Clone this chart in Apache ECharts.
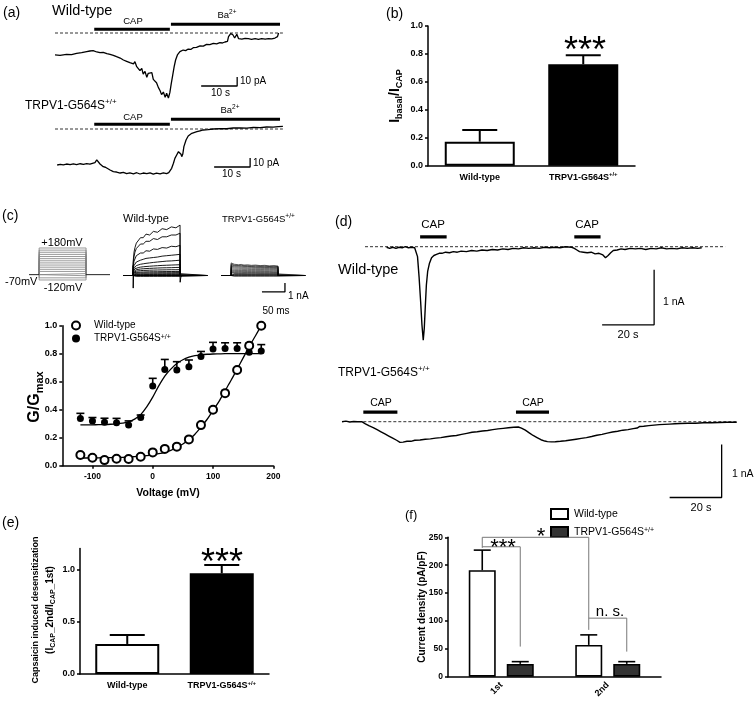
<!DOCTYPE html>
<html><head><meta charset="utf-8">
<script src="https://cdn.jsdelivr.net/npm/echarts@6/dist/echarts.min.js"></script>
<style>html,body{margin:0;padding:0;background:#fff}#c{width:754px;height:705px}</style>
</head><body><div id="c"></div>
<script>
// ======================= DATA =======================
// (a) whole-cell traces: [time (s), current (pA)]
const aWtTrace = [[0,-24.4],[1.4,-24.8],[3.2,-23.7],[4.6,-24.1],[6.0,-22.6],[7.4,-21.9],[8.8,-20.7],[9.7,-20.0],[10.6,-19.6],[11.6,-21.1],[12.5,-21.9],[13.4,-21.5],[14.4,-23.0],[15.3,-23.7],[16.2,-24.8],[17.1,-26.3],[18.1,-27.8],[19.0,-30.0],[19.9,-31.5],[20.8,-33.0],[21.8,-34.4],[22.2,-31.9],[22.7,-37.4],[23.1,-35.9],[23.6,-41.9],[24.1,-39.3],[24.5,-45.6],[25.0,-42.6],[25.5,-49.3],[25.9,-44.8],[26.4,-47.0],[26.9,-44.1],[27.3,-51.5],[27.8,-49.3],[28.2,-55.2],[28.7,-60.4],[29.2,-64.1],[29.6,-68.5],[30.1,-65.6],[30.6,-71.5],[31.0,-67.0],[31.5,-72.2],[31.9,-66.3],[32.3,-55.9],[32.7,-46.7],[33.1,-37.4],[33.5,-30.0],[34.0,-24.4],[34.7,-20.7],[35.6,-18.9],[36.3,-19.6],[37.0,-17.8],[37.7,-18.3],[38.4,-16.3],[39.3,-16.0],[40.3,-14.4],[41.2,-14.6],[42.1,-12.6],[43.0,-13.0],[44.0,-11.5],[44.9,-12.0],[45.8,-10.7],[46.5,-11.1],[47.2,-10.0],[47.9,-9.3],[48.2,-4.1],[48.8,-0.7],[49.4,-1.9],[49.9,-5.6],[50.5,-1.5],[51.0,-6.3],[51.9,-6.7],[52.8,-5.9],[53.7,-6.3],[54.6,-7.0],[55.6,-6.2],[56.5,-7.0],[57.4,-6.3],[58.4,-6.9],[59.3,-6.2],[60.2,-6.6],[61.1,-5.6],[61.8,-4.1],[62.1,0]];
const aMutTrace = [[0.6,-40.0],[1.5,-39.2],[2.3,-39.8],[3.2,-38.9],[4.2,-39.6],[5.1,-38.7],[6.0,-39.5],[7.0,-38.6],[7.9,-39.2],[8.8,-38.5],[9.7,-39.1],[10.4,-38.2],[11.1,-37.4],[11.6,-34.4],[12.0,-36.3],[12.5,-38.9],[13.0,-40.2],[13.4,-41.9],[14.0,-42.5],[14.4,-43.7],[15.3,-45.6],[16.2,-47.4],[17.1,-47.8],[18.1,-48.9],[19.0,-48.2],[19.9,-49.6],[20.8,-48.7],[21.8,-49.8],[22.7,-48.6],[23.6,-50.0],[24.5,-48.9],[25.5,-49.6],[26.4,-48.7],[27.3,-50.2],[28.2,-49.0],[29.2,-49.8],[30.1,-48.7],[31.0,-49.6],[31.6,-48.5],[32.0,-46.5],[32.4,-43.7],[32.9,-38.1],[33.3,-32.6],[33.8,-28.9],[34.3,-25.2],[34.7,-24.1],[35.0,-28.0],[35.2,-30.7],[35.5,-27.8],[35.8,-19.6],[36.4,-12.2],[37.0,-7.8],[38.0,-4.8],[39.4,-3.0],[40.3,-2.0],[41.2,-1.1],[42.5,-0.6],[44.0,0.0],[45.8,0.4],[47.7,0.3],[49.5,1.1],[51.4,1.3],[53.3,1.0],[55.1,1.9],[57.0,1.6],[58.8,2.2],[60.6,2.0],[62.0,2.6],[63.3,3.0]];
const aCapPeriod = [10.9, 31.9];   // s
const aBaPeriod  = [32.2, 62.5];   // s
const aBaseline  = [0, 63.3];      // s, dashed zero-current line
const aScaleBar  = [10, 10];       // 10 s, 10 pA

// (b) I_basal / I_CAP
const bCategories = ['Wild-type', 'TRPV1-G564S+/+'];
const bMeans = [0.172, 0.726];
const bSem   = [0.083, 0.064];

// (c) voltage protocol and current families (time ms, current nA)
const cStepVoltages = [-120,-100,-80,-60,-40,-20,0,20,40,60,80,100,120,140,160,180];
const cHoldingVoltage = -70;
const cProtocolTimes = [0, 22, 124, 176];      // start, step on, step off, end
const cTraceEnd = 183;
const cSweepTimes = [22,24,26,29,33,38,44,50,58,66,75,85,95,105,115,124];
const cWtSweeps = [
 [-0.1,-0.09,-0.08,-0.08,-0.08,-0.08,-0.08,-0.08,-0.08,-0.08,-0.08,-0.08,-0.08,-0.08,-0.08,-0.08],
 [-0.06,-0.05,-0.04,-0.04,-0.04,-0.04,-0.04,-0.04,-0.04,-0.04,-0.04,-0.04,-0.04,-0.04,-0.04,-0.04],
 [-0.02,-0.01,0,0,0,0,0,0,0,0,0,0,0,0,0,0],
 [0.03,0.03,0.04,0.04,0.04,0.04,0.04,0.04,0.04,0.04,0.04,0.04,0.04,0.04,0.04,0.04],
 [0.07,0.08,0.08,0.09,0.09,0.09,0.09,0.1,0.1,0.1,0.1,0.1,0.1,0.1,0.1,0.1],
 [0.12,0.14,0.15,0.16,0.17,0.17,0.18,0.18,0.18,0.19,0.19,0.19,0.2,0.2,0.2,0.2],
 [0.18,0.22,0.24,0.26,0.27,0.28,0.28,0.29,0.29,0.3,0.3,0.31,0.31,0.31,0.32,0.32],
 [0.22,0.29,0.32,0.35,0.37,0.38,0.39,0.4,0.41,0.42,0.42,0.43,0.44,0.44,0.45,0.45],
 [0.3,0.4,0.45,0.49,0.52,0.54,0.56,0.57,0.59,0.6,0.61,0.62,0.63,0.64,0.64,0.65],
 [0.38,0.52,0.6,0.65,0.69,0.72,0.75,0.77,0.79,0.81,0.83,0.85,0.86,0.87,0.89,0.9],
 [0.45,0.65,0.75,0.82,0.88,0.93,0.97,1.0,1.03,1.06,1.09,1.12,1.14,1.16,1.18,1.2],
 [0.55,0.8,0.95,1.1,1.15,1.25,1.3,1.35,1.4,1.45,1.5,1.55,1.6,1.62,1.66,1.7],
 [0.7,1.1,1.3,1.5,1.6,1.7,1.8,1.9,1.95,2.0,2.05,2.15,2.2,2.25,2.3,2.35],
 [0.9,1.6,1.8,2.2,2.25,2.5,2.5,2.75,2.7,2.95,2.9,3.1,3.05,3.25,3.2,3.35],
 [1.2,2.1,2.6,3.0,3.2,3.5,3.5,3.8,3.8,4.1,4.0,4.3,4.3,4.5,4.5,4.7],
 [1.5,2.6,3.1,3.6,3.8,4.2,4.2,4.6,4.5,4.9,4.8,5.2,5.1,5.4,5.3,5.6]
];
const cMutSweeps = [
 [-0.08,-0.08,-0.08,-0.08,-0.08,-0.08,-0.08,-0.08,-0.08,-0.08,-0.08,-0.08,-0.08,-0.08,-0.08,-0.08],
 [-0.03,-0.03,-0.03,-0.03,-0.03,-0.03,-0.03,-0.03,-0.03,-0.03,-0.03,-0.03,-0.03,-0.03,-0.03,-0.03],
 [0.02,0.02,0.02,0.02,0.02,0.02,0.02,0.02,0.02,0.02,0.02,0.02,0.02,0.02,0.02,0.02],
 [0.07,0.07,0.07,0.07,0.07,0.07,0.07,0.07,0.07,0.07,0.07,0.07,0.07,0.07,0.07,0.07],
 [0.13,0.13,0.13,0.13,0.13,0.13,0.13,0.13,0.13,0.13,0.13,0.13,0.13,0.13,0.13,0.13],
 [0.2,0.2,0.19,0.19,0.19,0.19,0.19,0.19,0.18,0.18,0.18,0.18,0.18,0.18,0.18,0.18],
 [0.28,0.27,0.27,0.27,0.26,0.26,0.26,0.26,0.26,0.26,0.26,0.25,0.25,0.25,0.25,0.25],
 [0.37,0.36,0.36,0.35,0.35,0.35,0.35,0.34,0.34,0.34,0.34,0.34,0.34,0.34,0.33,0.33],
 [0.48,0.47,0.46,0.46,0.45,0.45,0.45,0.45,0.44,0.44,0.44,0.44,0.44,0.44,0.43,0.43],
 [0.6,0.59,0.58,0.57,0.57,0.56,0.56,0.56,0.55,0.55,0.55,0.55,0.54,0.54,0.54,0.54],
 [0.74,0.72,0.71,0.7,0.7,0.69,0.69,0.68,0.68,0.67,0.67,0.67,0.66,0.66,0.66,0.65],
 [0.88,0.86,0.85,0.84,0.83,0.82,0.81,0.81,0.8,0.8,0.79,0.79,0.78,0.78,0.78,0.77],
 [1.02,1.0,0.98,0.97,0.95,0.94,0.93,0.92,0.92,0.91,0.9,0.9,0.89,0.89,0.88,0.88],
 [1.15,1.12,1.1,1.08,1.06,1.04,1.03,1.02,1.0,0.99,0.98,0.97,0.97,0.96,0.95,0.95],
 [1.28,1.22,1.22,1.15,1.17,1.11,1.13,1.08,1.1,1.05,1.08,1.03,1.05,1.01,1.03,1.0],
 [1.4,1.32,1.33,1.25,1.27,1.2,1.23,1.16,1.19,1.13,1.16,1.1,1.13,1.07,1.1,1.05]
];
const cWtTransientOn  = [[22,0],[22,1.1],[22.2,-1.4],[22.8,0]];
const cWtTransientOff = [[124,0],[124.2,-0.75],[125.5,-0.25],[127,0]];
const cScaleBar = [50, 1];   // 50 ms, 1 nA

// (c) conductance-voltage
const cVoltages = [-120,-100,-80,-60,-40,-20,0,20,40,60,80,100,120,140,160,180];
const cWtG     = [0.076,0.057,0.04,0.05,0.048,0.064,0.095,0.12,0.136,0.188,0.29,0.40,0.517,0.683,0.857,1.0];
const cWtGErr  = [0.012,0.012,0.018,0.01,0.01,0.01,0.012,0.012,0.012,0.015,0.012,0.015,0.02,0.015,0.015,0.0];
const cMutG    = [0.338,0.32,0.31,0.307,0.29,0.345,0.569,0.688,0.683,0.707,0.78,0.833,0.838,0.838,0.81,0.82];
const cMutGErr = [0.036,0.024,0.029,0.031,0.03,0.017,0.055,0.071,0.06,0.048,0.036,0.048,0.04,0.04,0.064,0.045];
const cFitV   = [-120,-110,-100,-90,-80,-70,-60,-50,-40,-30,-20,-10,0,10,20,30,40,50,60,70,80,90,100,110,120,130,140,150,160,170,180];
const cWtFit  = [0.055,0.055,0.056,0.056,0.057,0.058,0.059,0.06,0.062,0.065,0.068,0.072,0.078,0.086,0.096,0.11,0.13,0.155,0.185,0.225,0.275,0.33,0.395,0.46,0.535,0.61,0.69,0.77,0.85,0.925,1.0];
const cMutFit = [0.291,0.291,0.292,0.293,0.294,0.296,0.299,0.304,0.313,0.333,0.365,0.42,0.49,0.57,0.64,0.69,0.73,0.757,0.775,0.786,0.792,0.796,0.798,0.799,0.8,0.8,0.8,0.8,0.8,0.8,0.8];
const cGTicksX = [-100, 0, 100, 200];

// (d) repeated capsaicin applications: [time (s), current (nA)]
const dWtTrace = [[8.3,-0.01],[9.5,-0.03],[10.7,-0.01],[11.9,-0.03],[13.1,-0.01],[14.3,-0.02],[15.5,0.0],[16.7,-0.02],[17.9,-0.01],[19.1,-0.02],[19.7,-0.03],[20.2,-0.18],[20.8,-0.55],[21.4,-1.0],[21.9,-1.42],[22.4,-1.70],[22.8,-1.48],[23.2,-1.08],[23.6,-0.7],[24.1,-0.45],[24.8,-0.3],[25.6,-0.2],[26.5,-0.16],[27.5,-0.14],[28.5,-0.12],[29.6,-0.12],[31,-0.1],[32.5,-0.11],[34,-0.09],[35.5,-0.1],[37,-0.08],[39,-0.09],[41,-0.07],[43,-0.08],[45,-0.06],[47,-0.07],[49,-0.05],[51,-0.06],[53,-0.04],[55,-0.05],[57,-0.03],[59,-0.04],[61,-0.02],[63,-0.03],[65,-0.02],[67,-0.03],[69,-0.01],[71,-0.02],[73,-0.01],[75,-0.02],[77,0.0],[79.5,-0.01],[80.5,-0.03],[81.5,-0.06],[82.5,-0.09],[84,-0.1],[85.5,-0.11],[87,-0.1],[88.5,-0.13],[90,-0.12],[91.5,-0.15],[92.5,-0.2],[93.5,-0.16],[94.5,-0.11],[95.5,-0.07],[97,-0.06],[98.5,-0.04],[100,-0.05],[102,-0.03],[104,-0.04],[106,-0.03],[108,-0.05],[110,-0.03],[112,-0.04],[114,-0.02],[116,-0.04],[118,-0.03],[120,-0.04],[122,-0.02],[124,-0.03],[126,-0.02],[128,-0.03],[129.5,-0.02]];
const dMutTrace = [[0,0],[1.5,0.01],[3,-0.005],[4.5,0.005],[6,0],[7.6,0],[9,-0.04],[10.5,-0.08],[12,-0.11],[13.5,-0.15],[15,-0.19],[16.5,-0.23],[18,-0.27],[19.5,-0.31],[21,-0.35],[22.3,-0.39],[23.5,-0.385],[25,-0.37],[26.5,-0.37],[28,-0.35],[30,-0.345],[32,-0.33],[34,-0.325],[36,-0.31],[38,-0.3],[40,-0.285],[42,-0.27],[44,-0.26],[46,-0.24],[48,-0.22],[50,-0.2],[52,-0.19],[54,-0.175],[56,-0.165],[58,-0.15],[60,-0.135],[62,-0.125],[64,-0.115],[66,-0.105],[67.8,-0.1],[69,-0.12],[70.5,-0.16],[72,-0.21],[73.5,-0.26],[75,-0.3],[76.5,-0.34],[78,-0.365],[79,-0.375],[80.5,-0.38],[82,-0.378],[84,-0.37],[86,-0.36],[88,-0.345],[90,-0.33],[92,-0.315],[94,-0.3],[96,-0.28],[98,-0.255],[100,-0.24],[102,-0.215],[104,-0.195],[106,-0.18],[108,-0.16],[110,-0.15],[112,-0.13],[113.5,-0.12],[114.5,-0.09],[116,-0.085],[118,-0.075],[120,-0.065],[122,-0.055],[124,-0.05],[126,-0.045],[128,-0.04],[130,-0.035],[133,-0.03],[136,-0.03],[139,-0.02],[142,-0.02],[145,-0.015],[148,-0.01],[151.8,-0.01]];
const dWtCapPeriods  = [[21.2, 31.4], [80.5, 90.6]];
const dMutCapPeriods = [[8.2, 21.3], [66.9, 79.6]];
const dWtBaseline  = [0, 138.5];
const dMutBaseline = [8.2, 151.9];
const dScaleBar = [20, 1];   // 20 s, 1 nA

// (e) desensitization ratio
const eCategories = ['Wild-type', 'TRPV1-G564S+/+'];
const eMeans = [0.287, 0.962];
const eSem   = [0.086, 0.079];
const eTicks = [0, 0.5, 1.0];

// (f) current density
const fCategories = ['1st', '2nd'];
const fWt    = [191, 57];
const fWtSem = [36, 18];
const fMut    = [23, 23];
const fMutSem = [4, 4];
// brackets: [catA, sideA(-1 WT / +1 mutant), yA, catB, sideB, yB, yTop]
const fBrackets = [[0,-1,231, 1,-1,84, 250],[0,-1,233, 0,1,54, 233],[1,-1,105, 1,1,45, 105]];

// ======================= LAYOUT / STYLE =======================
const FF = 'Arial, "Liberation Sans", Helvetica, sans-serif';
const L = {
  aWt:  {left:55, top:10.5, width:228, height:90, x:[0,63.33], y:[-75,25], cap:4.1, ba:9.6, sb:[50.6,-58.9]},
  aMut: {left:55, top:106.5, width:228, height:90, x:[0,63.33], y:[-75,25], cap:5.2, ba:10.7, sb:[54.2,-42.2]},
  b:    {left:428, top:26, width:207, height:139.7},
  cProt:{left:29, top:244.8, width:81, height:40.5, x:[0,176], y:[-170,210]},
  cWt:  {left:123, top:215.2, width:84.2, height:80.1, x:[0,183], y:[-2.2,6.7]},
  cMut: {left:221, top:215.2, width:84.2, height:80.1, x:[0,183], y:[-2.2,6.7], sb:[139,-1.83]},
  cG:   {left:62.3, top:325.7, width:211, height:140},
  dWt:  {left:365, top:224.7, width:360, height:121, x:[0,138.46], y:[-1.8,0.4], cap:0.18, sb:[111.2,-1.42]},
  dMut: {left:342, top:400.5, width:395, height:106, x:[0,151.9], y:[-1.6,0.4], cap:0.18, sb:[146.0,-1.43]},
  e:    {left:80, top:548.4, width:189, height:125.6},
  f:    {left:448, top:537.3, width:213, height:139.4}
};

function merge(a, b){
  const o = Object.assign({}, a);
  for (const k in b){
    const v = b[k];
    if (v && typeof v === 'object' && !Array.isArray(v) && o[k] && typeof o[k] === 'object' && !Array.isArray(o[k])) o[k] = merge(o[k], v);
    else o[k] = v;
  }
  return o;
}
const AX = {
  axisLine:{show:true, onZero:false, lineStyle:{color:'#000', width:1.5}},
  axisTick:{show:true, inside:false, length:3, lineStyle:{color:'#000', width:1.5}},
  axisLabel:{show:true, color:'#000', fontFamily:FF, fontSize:9, fontWeight:'bold', margin:5, hideOverlap:false},
  splitLine:{show:false}, splitArea:{show:false}, minorTick:{show:false}
};
const catRich = {
  n:{fontFamily:FF, fontSize:9, fontWeight:'bold', color:'#000', lineHeight:12},
  p:{fontFamily:FF, fontSize:6, fontWeight:'bold', color:'#000', lineHeight:6, verticalAlign:'top'}
};
function supTag(v){ const m = String(v).match(/^(.*?)(\+\/\+)$/); return m ? '{n|'+m[1]+'}{p|'+m[2]+'}' : '{n|'+v+'}'; }

const grids = [], xAxes = [], yAxes = [], series = [], G = [];
function addGrid(g, xa, ya){
  const i = grids.length;
  grids.push({left:g.left, top:g.top, width:g.width, height:g.height, containLabel:false, outerBoundsMode:'none', show:false});
  xa.gridIndex = i; ya.gridIndex = i; xAxes.push(xa); yAxes.push(ya); return i;
}
const hid = (r) => ({type:'value', min:r[0], max:r[1], show:false, splitLine:{show:false}});
function line(gi, data, style, extra){
  series.push(Object.assign({type:'line', xAxisIndex:gi, yAxisIndex:gi, data:data, showSymbol:false, symbol:'none', silent:true, z:2,
    lineStyle:Object.assign({color:'#000', width:1, opacity:1}, style||{})}, extra||{}));
}
function scaleBar(gi, anchor, len){
  line(gi, [[anchor[0]-len[0], anchor[1]], [anchor[0], anchor[1]], [anchor[0], anchor[1]+len[1]]], {width:1.3});
}
function errorBars(gi, items, capHalf, width, dx, z){
  series.push({type:'custom', xAxisIndex:gi, yAxisIndex:gi, silent:true, z:z||3, data:items, encode:{x:0, y:1},
    renderItem:function(params, api){
      const x = api.value(0), y = api.value(1), e = api.value(2);
      const a = api.coord([x, y]), b = api.coord([x, y + e]);
      const cx = a[0] + (dx||0);
      return {type:'group', children:[
        {type:'line', shape:{x1:cx, y1:a[1], x2:cx, y2:b[1]}, style:{stroke:'#000', lineWidth:width}},
        {type:'line', shape:{x1:cx-capHalf, y1:b[1], x2:cx+capHalf, y2:b[1]}, style:{stroke:'#000', lineWidth:width}}
      ]};
    }});
}
function rt(x, y, text, o){
  o = o || {};
  const size = o.size || 10, w = o.weight || 'normal', sm = o.small || Math.round(size*0.65), al = o.align || 'left';
  const H = Math.round(size*1.3);
  G.push({type:'text', x:x, y:y, rotation:o.rot ? Math.PI/2 : 0, silent:true, z:100,
    style:{text:text, fill:'#000', fontFamily:FF, fontSize:size, fontWeight:w, align:al, verticalAlign:'middle', textAlign:al, textVerticalAlign:'middle',
      rich:{
        n:{fontFamily:FF, fontSize:size, fontWeight:w, lineHeight:H, verticalAlign:'middle', fill:'#000'},
        p:{fontFamily:FF, fontSize:sm, fontWeight:w, lineHeight:sm, verticalAlign:'top', fill:'#000'},
        d:{fontFamily:FF, fontSize:sm, fontWeight:w, lineHeight:sm, verticalAlign:'bottom', fill:'#000'}
      }}});
}

// ---------- (a) ----------
[['aWt', aWtTrace], ['aMut', aMutTrace]].forEach(function(pair){
  const g = L[pair[0]];
  const gi = addGrid(g, hid(g.x), hid(g.y));
  line(gi, [[aBaseline[0],0],[aBaseline[1],0]], {width:1, type:[3,2], color:'#333'});
  line(gi, pair[1], {width:1.3});
  line(gi, [[aCapPeriod[0],g.cap],[aCapPeriod[1],g.cap]], {width:3});
  line(gi, [[aBaPeriod[0],g.ba],[aBaPeriod[1],g.ba]], {width:3});
  scaleBar(gi, g.sb, aScaleBar);
});

// ---------- (b) ----------
(function(){
  const gi = addGrid(L.b,
    merge(AX, {type:'category', data:bCategories, axisTick:{show:false}, axisLabel:{interval:0, margin:6, formatter:supTag, rich:catRich}}),
    merge(AX, {type:'value', min:0, max:1, interval:0.2, axisLabel:{formatter:function(v){return v.toFixed(1);}}}));
  series.push({type:'bar', xAxisIndex:gi, yAxisIndex:gi, barWidth:70, silent:true, z:2,
    data:bMeans.map(function(v,i){ return {value:v, itemStyle:i===0 ? {color:'#fff', borderColor:'#000', borderWidth:2} : {color:'#000', borderColor:'#000', borderWidth:2}}; })});
  errorBars(gi, bMeans.map(function(v,i){return [i, v, bSem[i]];}), 17.5, 2);
})();

// ---------- (c) protocol ----------
(function(){
  const g = L.cProt;
  const gi = addGrid(g, hid(g.x), hid(g.y));
  const t = cProtocolTimes, h = cHoldingVoltage;
  cStepVoltages.forEach(function(V){
    line(gi, [[t[1],h],[t[1],V],[t[2],V],[t[2],h]], {width:0.8, color:'#808080'});
  });
  line(gi, [[t[0],h],[t[1],h]], {width:1, color:'#222'});
  line(gi, [[t[2],h],[t[3],h]], {width:1, color:'#222'});
})();
// ---------- (c) current families ----------
[['cWt', cWtSweeps, 0.9], ['cMut', cMutSweeps, 0.6]].forEach(function(pair){
  const g = L[pair[0]];
  const gi = addGrid(g, hid(g.x), hid(g.y));
  pair[1].forEach(function(sw){
    const d = [[0,0],[cProtocolTimes[1],0]].concat(cSweepTimes.map(function(tt,j){return [tt, sw[j]];}));
    d.push([cProtocolTimes[2],0]); d.push([cTraceEnd,0]);
    line(gi, d, {width:pair[2]});
  });
  if (pair[0] === 'cWt'){ line(gi, cWtTransientOn, {width:1}); line(gi, cWtTransientOff, {width:1}); }
  else scaleBar(gi, g.sb, cScaleBar);
});
// ---------- (c) G/Gmax ----------
(function(){
  const gi = addGrid(L.cG,
    merge(AX, {type:'value', min:-150, max:200, axisTick:{customValues:cGTicksX}, axisLabel:{fontSize:8.5, margin:6, customValues:cGTicksX}}),
    merge(AX, {type:'value', min:0, max:1, interval:0.2, axisLabel:{formatter:function(v){return v.toFixed(1);}}}));
  line(gi, cFitV.map(function(v,i){return [v, cWtFit[i]];}), {width:1.3}, {smooth:0.3});
  line(gi, cFitV.map(function(v,i){return [v, cMutFit[i]];}), {width:1.3}, {smooth:0.3});
  errorBars(gi, cVoltages.map(function(v,i){return [v, cMutG[i], cMutGErr[i]];}), 4, 1.6);
  errorBars(gi, cVoltages.map(function(v,i){return [v, cWtG[i], cWtGErr[i]];}), 4, 1.6);
  series.push({type:'scatter', name:'gMut', xAxisIndex:gi, yAxisIndex:gi, symbol:'circle', symbolSize:7, silent:true, z:5,
    itemStyle:{color:'#000', borderColor:'#000', borderWidth:0, opacity:1}, data:cVoltages.map(function(v,i){return [v, cMutG[i]];})});
  series.push({type:'scatter', name:'gWT', xAxisIndex:gi, yAxisIndex:gi, symbol:'circle', symbolSize:8, silent:true, z:6,
    itemStyle:{color:'#fff', borderColor:'#000', borderWidth:2, opacity:1}, data:cVoltages.map(function(v,i){return [v, cWtG[i]];})});
})();

// ---------- (d) ----------
[['dWt', dWtTrace, dWtCapPeriods, dWtBaseline], ['dMut', dMutTrace, dMutCapPeriods, dMutBaseline]].forEach(function(p){
  const g = L[p[0]];
  const gi = addGrid(g, hid(g.x), hid(g.y));
  line(gi, [[p[3][0],0],[p[3][1],0]], {width:1, type:[3,2], color:'#333'});
  line(gi, p[1], {width:1.4});
  p[2].forEach(function(c){ line(gi, [[c[0],g.cap],[c[1],g.cap]], {width:3.3}); });
  scaleBar(gi, g.sb, dScaleBar);
});

// ---------- (e) ----------
(function(){
  const gi = addGrid(L.e,
    merge(AX, {type:'category', data:eCategories, axisTick:{show:false}, axisLabel:{interval:0, margin:6, formatter:supTag, rich:catRich}}),
    merge(AX, {type:'value', min:0, max:1.2, axisTick:{customValues:eTicks}, axisLabel:{customValues:eTicks, formatter:function(v){return Number(v).toFixed(1);}}}));
  series.push({type:'bar', xAxisIndex:gi, yAxisIndex:gi, barWidth:64, silent:true, z:2,
    data:eMeans.map(function(v,i){ return {value:v, itemStyle:i===0 ? {color:'#fff', borderColor:'#000', borderWidth:2} : {color:'#000', borderColor:'#000', borderWidth:2}}; })});
  errorBars(gi, eMeans.map(function(v,i){return [i, v, eSem[i]];}), 17.5, 2);
})();

// ---------- (f) ----------
(function(){
  const gi = addGrid(L.f,
    merge(AX, {type:'category', data:fCategories, axisTick:{show:false}, axisLabel:{interval:0, rotate:45, margin:7, fontSize:9, padding:[0,0,0,6]}}),
    merge(AX, {type:'value', min:0, max:250, interval:50, axisLabel:{fontSize:8.5}}));
  const bw = 27, gap = 11, off = (bw + gap)/2;
  series.push({type:'bar', name:'fWT', xAxisIndex:gi, yAxisIndex:gi, barWidth:bw, barGap:(gap/bw*100)+'%', silent:true, z:2,
    itemStyle:{color:'#fff', borderColor:'#000', borderWidth:1.6}, data:fWt});
  series.push({type:'bar', name:'fMut', xAxisIndex:gi, yAxisIndex:gi, barWidth:bw, barGap:(gap/bw*100)+'%', silent:true, z:2,
    itemStyle:{color:'#333', borderColor:'#000', borderWidth:1.6}, data:fMut});
  errorBars(gi, fWt.map(function(v,i){return [i, v, fWtSem[i]];}), 8.5, 1.6, -off);
  errorBars(gi, fMut.map(function(v,i){return [i, v, fMutSem[i]];}), 8.5, 1.6, off);
  series.push({type:'custom', xAxisIndex:gi, yAxisIndex:gi, silent:true, z:4, data:fBrackets, encode:{x:0, y:6},
    renderItem:function(params, api){
      const x1 = api.coord([api.value(0), 0])[0] + api.value(1)*off;
      const x2 = api.coord([api.value(3), 0])[0] + api.value(4)*off;
      const y1 = api.coord([0, api.value(2)])[1], y2 = api.coord([0, api.value(5)])[1], yt = api.coord([0, api.value(6)])[1];
      return {type:'polyline', shape:{points:[[x1,y1],[x1,yt],[x2,yt],[x2,y2]]}, style:{stroke:'#777', lineWidth:1, fill:'none'}};
    }});
})();

// ---------- texts ----------
// (a)
rt(3, 13, '{n|(a)}', {size:14});
rt(52, 11, '{n|Wild-type}', {size:14.5});
rt(133, 21, '{n|CAP}', {size:9.5, align:'center'});
rt(227, 15, '{n|Ba}{p|2+}', {size:9.5, small:6.5, align:'center'});
rt(240, 81.5, '{n|10 pA}', {size:10});
rt(220.5, 93.5, '{n|10 s}', {size:10, align:'center'});
rt(25, 106, '{n|TRPV1-G564S}{p|+/+}', {size:12, small:8});
rt(133, 117, '{n|CAP}', {size:9.5, align:'center'});
rt(230, 110, '{n|Ba}{p|2+}', {size:9.5, small:6.5, align:'center'});
rt(253, 163.5, '{n|10 pA}', {size:10});
rt(231.5, 174.5, '{n|10 s}', {size:10, align:'center'});
// (b)
rt(386, 14, '{n|(b)}', {size:14});
rt(585, 52, '{n|***}', {size:36, align:'center'});
rt(395, 96, '{n|I}{d|basal}{n|/I}{d|CAP}', {size:14, small:9, weight:'bold', rot:true, align:'center'});
// (c)
rt(2, 216, '{n|(c)}', {size:14});
rt(62, 243, '{n|+180mV}', {size:11, align:'center'});
rt(5, 282, '{n|-70mV}', {size:11});
rt(63, 287.5, '{n|-120mV}', {size:11, align:'center'});
rt(123, 219, '{n|Wild-type}', {size:11});
rt(222, 219, '{n|TRPV1-G564S}{p|+/+}', {size:9.5, small:6.5});
rt(288, 296.5, '{n|1 nA}', {size:10});
rt(276, 311, '{n|50 ms}', {size:10, align:'center'});
rt(35, 397, '{n|G/G}{d|max}', {size:16, small:11, weight:'bold', rot:true, align:'center'});
rt(168, 493, '{n|Voltage (mV)}', {size:10.5, weight:'bold', align:'center'});
// (d)
rt(335, 222, '{n|(d)}', {size:14});
rt(433, 225, '{n|CAP}', {size:11.5, align:'center'});
rt(587, 225, '{n|CAP}', {size:11.5, align:'center'});
rt(338, 270, '{n|Wild-type}', {size:14.5});
rt(663, 302, '{n|1 nA}', {size:10.5});
rt(628, 335, '{n|20 s}', {size:11, align:'center'});
rt(338, 373, '{n|TRPV1-G564S}{p|+/+}', {size:12, small:8});
rt(381, 403, '{n|CAP}', {size:10.5, align:'center'});
rt(533, 403, '{n|CAP}', {size:10.5, align:'center'});
rt(732, 474, '{n|1 nA}', {size:10.5});
rt(701, 508, '{n|20 s}', {size:11, align:'center'});
// (e)
rt(2, 523, '{n|(e)}', {size:14});
rt(222, 564, '{n|***}', {size:36, align:'center'});
rt(35.5, 610, '{n|Capsaicin induced desensitization}', {size:9, weight:'bold', rot:true, align:'center'});
rt(50, 610, '{n|(I}{d|CAP}{n|_2nd/I}{d|CAP}{n|_1st)}', {size:10, small:7, weight:'bold', rot:true, align:'center'});
// (f)
rt(405, 515, '{n|(f)}', {size:13});
rt(541, 537, '{n|*}', {size:22, align:'center'});
rt(503, 548, '{n|***}', {size:22, align:'center'});
rt(610, 612, '{n|n. s.}', {size:15, align:'center'});
rt(422, 607, '{n|Current density (pA/pF)}', {size:10, weight:'bold', rot:true, align:'center'});

const legRich = function(size, lh, pad){ return {
  n:{fontFamily:FF, fontSize:size, color:'#000', lineHeight:lh, padding:[0,0,0,pad]},
  p:{fontFamily:FF, fontSize:Math.round(size*0.65), color:'#000', lineHeight:6, verticalAlign:'top'}
};};
const legends = [
  {data:['gWT','gMut'], orient:'vertical', left:71, top:320.5, padding:0, itemWidth:8, itemHeight:8, itemGap:3, selectedMode:false,
   itemStyle:{opacity:1},
   formatter:function(n){ return n === 'gWT' ? '{n|Wild-type}' : '{n|TRPV1-G564S}{p|+/+}'; },
   textStyle:{rich:legRich(10, 9, 9)}},
  {data:['fWT','fMut'], orient:'vertical', left:550, top:508, padding:0, itemWidth:17, itemHeight:10, itemGap:6, icon:'rect', selectedMode:false,
   formatter:function(n){ return n === 'fWT' ? '{n|Wild-type}' : '{n|TRPV1-G564S}{p|+/+}'; },
   textStyle:{rich:legRich(10.5, 10, 1)}}
];

const chart = echarts.init(document.getElementById('c'), null, {renderer:'canvas'});
chart.setOption({
  animation:false, backgroundColor:'#fff', textStyle:{fontFamily:FF},
  grid:grids, xAxis:xAxes, yAxis:yAxes, series:series, legend:legends, graphic:{elements:G}
});
</script></body></html>
